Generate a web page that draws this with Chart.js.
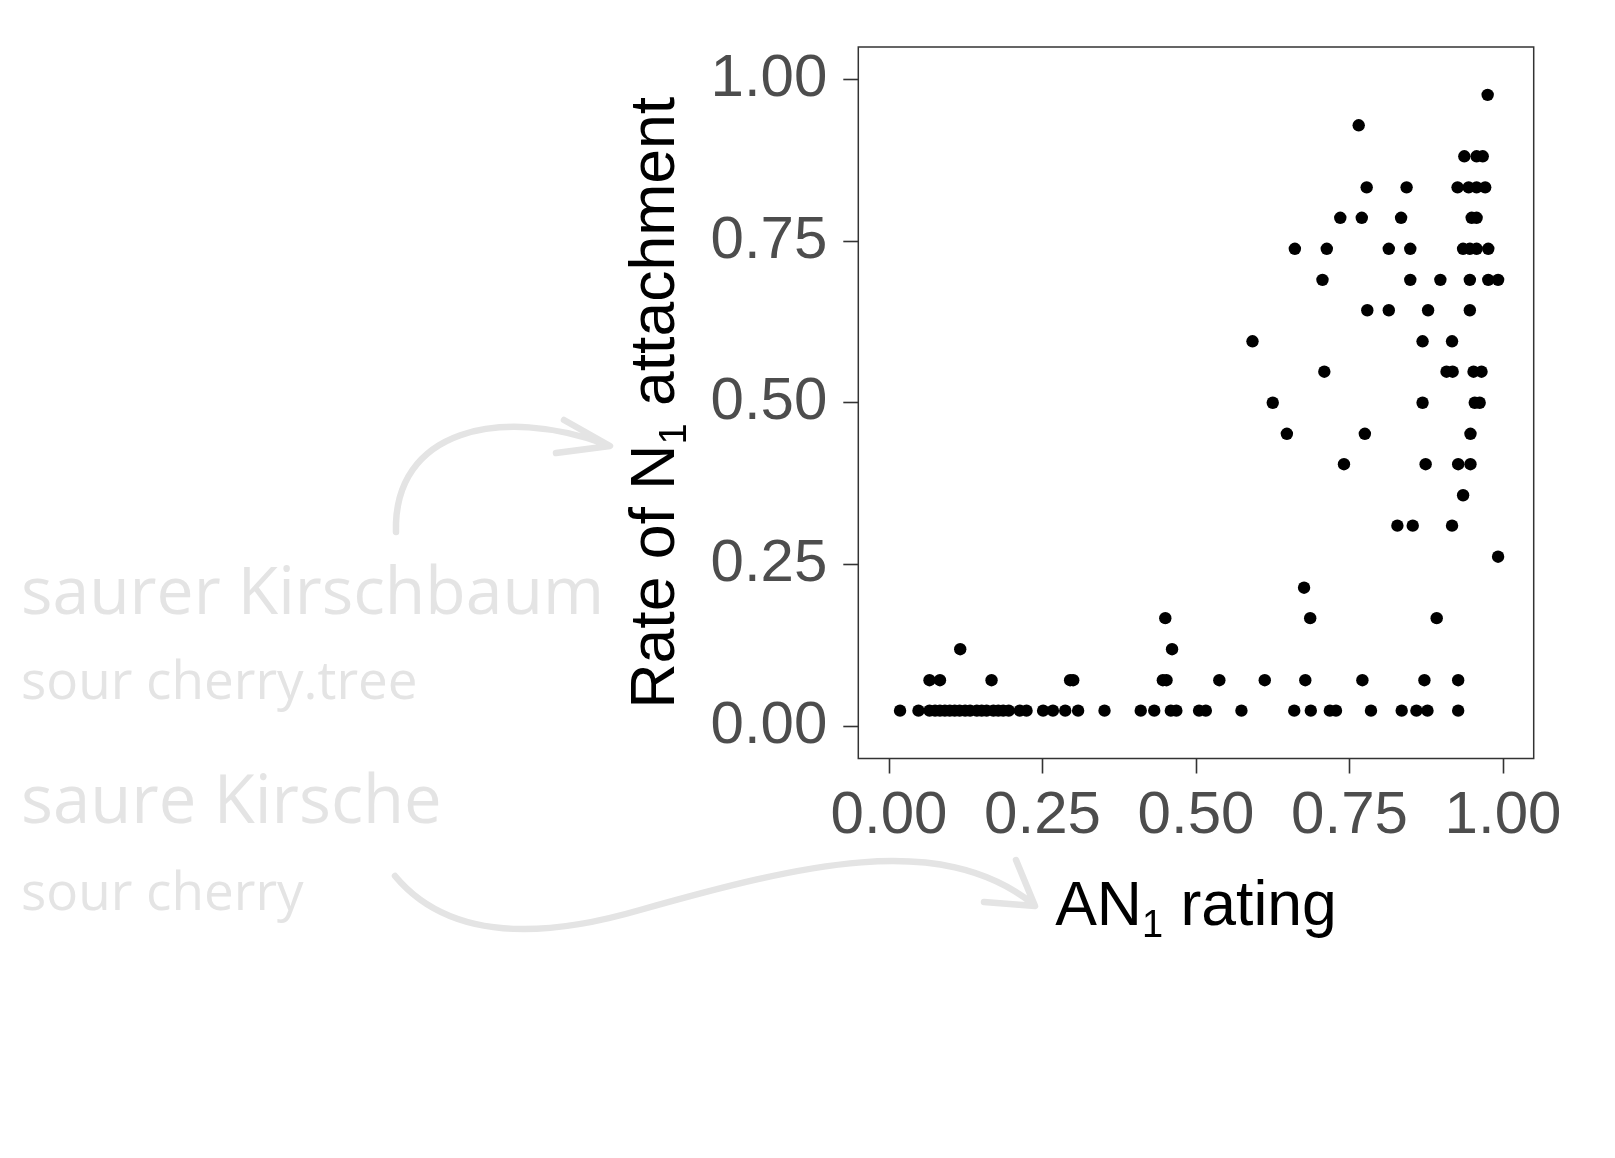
<!DOCTYPE html>
<html>
<head>
<meta charset="utf-8">
<script src="https://cdn.jsdelivr.net/npm/chart.js@4.4.1/dist/chart.umd.min.js"></script>
<style>
  html, body { margin: 0; padding: 0; background: #fff; }
  canvas { display: block; }
</style>
</head>
<body>
<canvas id="scatter" width="1615" height="1158"></canvas>
<script>
// rate of N1 attachment, one entry per row of points
const n1Levels = [0.976, 0.929, 0.881, 0.833, 0.786, 0.738, 0.690, 0.643, 0.595, 0.548, 0.500,
  0.452, 0.405, 0.357, 0.310, 0.262, 0.214, 0.167, 0.119, 0.071, 0.024];

// AN1 ratings of the points sitting on each level above
const an1Ratings = [
  [0.975],
  [0.765],
  [0.937, 0.957, 0.967],
  [0.778, 0.843, 0.926, 0.944, 0.957, 0.971],
  [0.735, 0.770, 0.834, 0.949, 0.957],
  [0.661, 0.713, 0.814, 0.849, 0.935, 0.946, 0.957, 0.976],
  [0.706, 0.849, 0.898, 0.946, 0.976, 0.992],
  [0.779, 0.814, 0.878, 0.946],
  [0.592, 0.869, 0.917],
  [0.709, 0.908, 0.918, 0.952, 0.965],
  [0.625, 0.869, 0.954, 0.962],
  [0.648, 0.775, 0.947],
  [0.741, 0.874, 0.927, 0.947],
  [0.935],
  [0.828, 0.853, 0.917],
  [0.992],
  [0.676],
  [0.450, 0.686, 0.892],
  [0.116, 0.461],
  [0.066, 0.083, 0.167, 0.295, 0.300, 0.446, 0.452, 0.538, 0.612, 0.678, 0.771, 0.872, 0.927],
  [0.018, 0.048, 0.066, 0.075, 0.083, 0.091, 0.099, 0.107, 0.115, 0.124, 0.132, 0.143, 0.151,
   0.159, 0.170, 0.178, 0.186, 0.195, 0.213, 0.224, 0.251, 0.267, 0.287, 0.308, 0.351, 0.410,
   0.432, 0.459, 0.468, 0.505, 0.516, 0.574, 0.660, 0.687, 0.718, 0.728, 0.785, 0.835, 0.859,
   0.877, 0.927]
];

const tickValues = [0, 0.25, 0.5, 0.75, 1];

const xTitle = [['AN', false], ['1', true], [' rating', false]];
const yTitle = [['Rate of N', false], ['1', true], [' attachment', false]];

const notes = [
  { text: 'saurer Kirschbaum', size: 66, y: 614 },
  { text: 'sour cherry.tree', size: 53, y: 699 },
  { text: 'saure Kirsche', size: 67, y: 823 },
  { text: 'sour cherry', size: 53, y: 910 }
];

const points = [];
n1Levels.forEach((lvl, i) => {
  an1Ratings[i].forEach(x => points.push({ x: x, y: lvl }));
});

const FONT = '"Liberation Sans", Arial, sans-serif';
const PALE = '#e4e4e4';

// text with a lowered small "1", centred on (0, 0)
function drawSubText(ctx, parts) {
  const big = '62.5px ' + FONT;
  const small = '38px ' + FONT;
  let total = 0;
  parts.forEach(p => {
    ctx.font = p[1] ? small : big;
    total += ctx.measureText(p[0]).width;
  });
  let x = -total / 2;
  ctx.textAlign = 'left';
  ctx.textBaseline = 'alphabetic';
  parts.forEach(p => {
    ctx.font = p[1] ? small : big;
    ctx.fillText(p[0], x, p[1] ? 12 : 0);
    x += ctx.measureText(p[0]).width;
  });
}

const extras = {
  id: 'extras',
  beforeDraw(chart) {
    const ctx = chart.ctx;
    ctx.save();
    ctx.fillStyle = PALE;
    ctx.textAlign = 'left';
    ctx.textBaseline = 'alphabetic';
    notes.forEach(n => {
      ctx.font = n.size + 'px "Open Sans", "Noto Sans", sans-serif';
      ctx.fillText(n.text, 21, n.y);
    });

    ctx.strokeStyle = PALE;
    ctx.lineWidth = 6.5;
    ctx.lineCap = 'round';
    ctx.lineJoin = 'round';
    // upper arrow to the y title
    ctx.beginPath();
    ctx.moveTo(396, 532);
    ctx.bezierCurveTo(393, 430, 500, 405, 608, 445);
    ctx.moveTo(564, 420);
    ctx.lineTo(610, 446);
    ctx.lineTo(556, 453);
    ctx.stroke();
    // lower arrow to the x title
    ctx.beginPath();
    ctx.moveTo(395, 876);
    ctx.bezierCurveTo(440, 930, 520, 945, 640, 910);
    ctx.bezierCurveTo(800, 865, 940, 830, 1033, 904);
    ctx.moveTo(1016, 860);
    ctx.lineTo(1035, 906);
    ctx.lineTo(984, 902);
    ctx.stroke();
    ctx.restore();
  },
  afterDraw(chart) {
    const ctx = chart.ctx;
    const a = chart.chartArea;
    ctx.save();
    ctx.strokeStyle = '#333333';
    ctx.lineWidth = 1.5;
    ctx.strokeRect(a.left, a.top, a.right - a.left, a.bottom - a.top);

    ctx.fillStyle = '#000';
    ctx.save();
    ctx.translate((a.left + a.right) / 2, 925);
    drawSubText(ctx, xTitle);
    ctx.restore();

    ctx.save();
    ctx.translate(674, (a.top + a.bottom) / 2);
    ctx.rotate(-Math.PI / 2);
    drawSubText(ctx, yTitle);
    ctx.restore();
    ctx.restore();
  }
};

const axisGrid = {
  drawOnChartArea: false,
  drawTicks: true,
  tickLength: 15,
  tickColor: '#333333',
  tickWidth: 1.6
};

const tickFont = { family: FONT, size: 60, lineHeight: 1 };

new Chart(document.getElementById('scatter').getContext('2d'), {
  type: 'scatter',
  data: {
    datasets: [{
      data: points,
      backgroundColor: '#000000',
      borderWidth: 0,
      pointRadius: 6.2,
      pointHoverRadius: 6.2
    }]
  },
  options: {
    responsive: false,
    animation: false,
    layout: { padding: { left: 0, top: 47, right: 81.3, bottom: 279.5 } },
    plugins: { legend: { display: false }, tooltip: { enabled: false } },
    scales: {
      x: {
        type: 'linear',
        min: -0.05,
        max: 1.05,
        afterBuildTicks: s => { s.ticks = tickValues.map(v => ({ value: v })); },
        afterFit: s => { s.height = 120; },
        grid: axisGrid,
        border: { display: false },
        ticks: {
          color: '#4d4d4d',
          font: tickFont,
          padding: 13,
          maxRotation: 0,
          autoSkip: false,
          callback: v => v.toFixed(2)
        }
      },
      y: {
        type: 'linear',
        min: -0.05,
        max: 1.05,
        afterBuildTicks: s => { s.ticks = tickValues.map(v => ({ value: v })); },
        afterFit: s => { s.width = 858.3; },
        grid: axisGrid,
        border: { display: false },
        ticks: {
          color: '#4d4d4d',
          font: tickFont,
          padding: 16,
          autoSkip: false,
          callback: v => v.toFixed(2)
        }
      }
    }
  },
  plugins: [extras]
});
</script>
</body>
</html>
